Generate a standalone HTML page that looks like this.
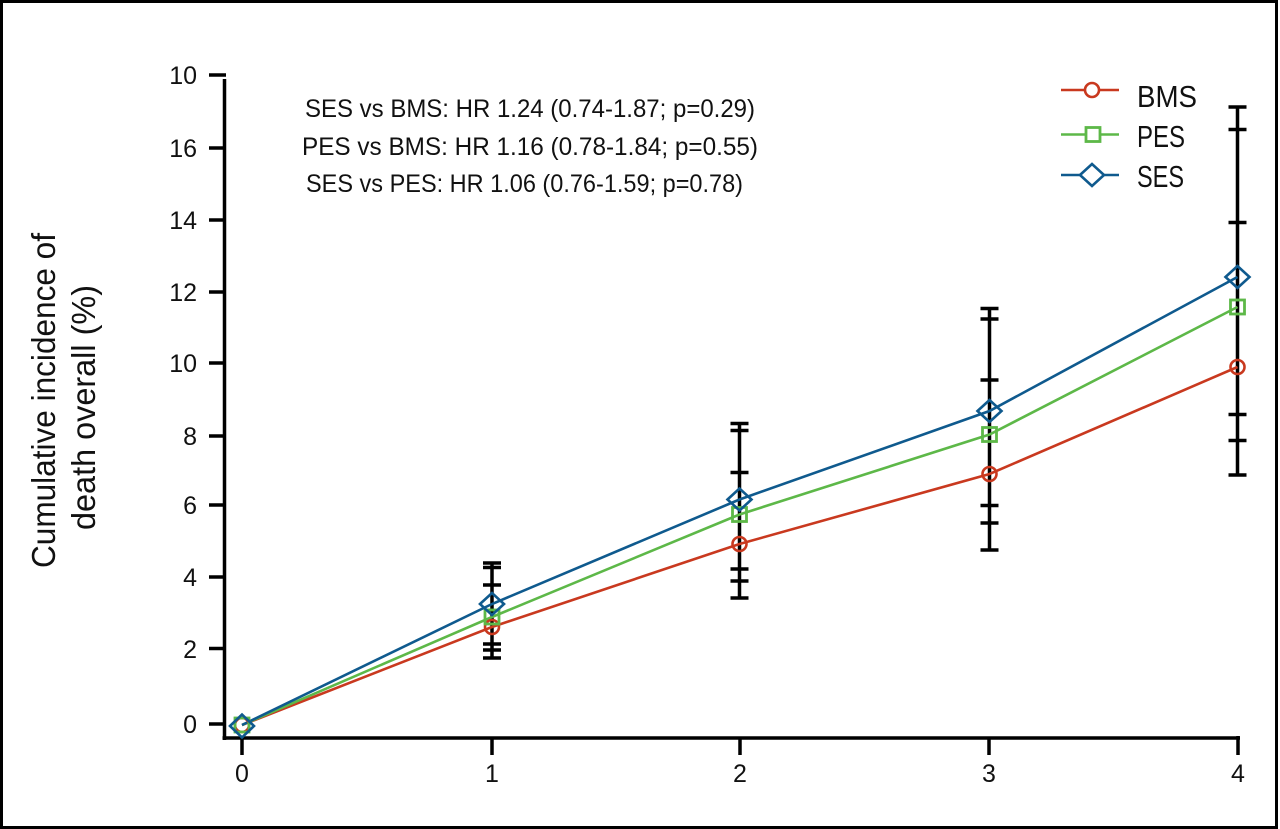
<!DOCTYPE html>
<html>
<head>
<meta charset="utf-8">
<style>
  html,body{margin:0;padding:0;background:#fff;}
  svg{display:block;}
  text{font-family:"Liberation Sans",sans-serif;fill:#111;}
</style>
</head>
<body>
<svg width="1280" height="829" viewBox="0 0 1280 829" xmlns="http://www.w3.org/2000/svg">
  <rect x="0" y="0" width="1280" height="829" fill="#fff"/>
  <rect x="1.5" y="1.5" width="1275" height="826" fill="none" stroke="#000" stroke-width="3"/>

  <!-- axes -->
  <line x1="224.5" y1="79" x2="224.5" y2="740" stroke="#000" stroke-width="3.5"/>
  <line x1="222.5" y1="738" x2="1240" y2="738" stroke="#000" stroke-width="3.5"/>

  <!-- y ticks -->
  <g stroke="#000" stroke-width="3.5">
    <line x1="209" y1="75" x2="226" y2="75"/>
    <line x1="209" y1="148" x2="224" y2="148"/>
    <line x1="209" y1="220" x2="224" y2="220"/>
    <line x1="209" y1="292" x2="224" y2="292"/>
    <line x1="209" y1="363" x2="224" y2="363"/>
    <line x1="209" y1="436" x2="224" y2="436"/>
    <line x1="209" y1="505" x2="224" y2="505"/>
    <line x1="209" y1="577" x2="224" y2="577"/>
    <line x1="209" y1="648.5" x2="224" y2="648.5"/>
    <line x1="209" y1="724" x2="224" y2="724"/>
  </g>
  <g font-size="25" text-anchor="end">
    <text x="197" y="84">10</text>
    <text x="197" y="157">16</text>
    <text x="197" y="229">14</text>
    <text x="197" y="301">12</text>
    <text x="197" y="372">10</text>
    <text x="197" y="445">8</text>
    <text x="197" y="514">6</text>
    <text x="197" y="586">4</text>
    <text x="197" y="658">2</text>
    <text x="197" y="733">0</text>
  </g>

  <!-- x ticks -->
  <g stroke="#000" stroke-width="3.5">
    <line x1="242" y1="738" x2="242" y2="755"/>
    <line x1="492" y1="738" x2="492" y2="755"/>
    <line x1="740" y1="738" x2="740" y2="755"/>
    <line x1="989" y1="738" x2="989" y2="755"/>
    <line x1="1238" y1="736" x2="1238" y2="755"/>
  </g>
  <g font-size="25" text-anchor="middle">
    <text x="242" y="782">0</text>
    <text x="492" y="782">1</text>
    <text x="740" y="782">2</text>
    <text x="989" y="782">3</text>
    <text x="1238" y="782">4</text>
  </g>

  <!-- y-axis label -->
  <text transform="translate(55,400.5) rotate(-90)" font-size="33" text-anchor="middle" textLength="335" lengthAdjust="spacingAndGlyphs">Cumulative incidence of</text>
  <text transform="translate(95,407.5) rotate(-90)" font-size="33" text-anchor="middle" textLength="245" lengthAdjust="spacingAndGlyphs">death overall (%)</text>

  <!-- annotation -->
  <g font-size="25">
    <text x="305" y="117" textLength="450" lengthAdjust="spacingAndGlyphs">SES vs BMS: HR 1.24 (0.74-1.87; p=0.29)</text>
    <text x="302" y="155" textLength="456" lengthAdjust="spacingAndGlyphs">PES vs BMS: HR 1.16 (0.78-1.84; p=0.55)</text>
    <text x="306" y="192" textLength="437" lengthAdjust="spacingAndGlyphs">SES vs PES: HR 1.06 (0.76-1.59; p=0.78)</text>
  </g>

  <!-- error bars -->
  <g stroke="#000" stroke-width="3.5" fill="none">
    <line x1="492" y1="563" x2="492" y2="658"/>
    <line x1="483" y1="563" x2="501" y2="563"/>
    <line x1="483" y1="567.5" x2="501" y2="567.5"/>
    <line x1="483" y1="585" x2="501" y2="585"/>
    <line x1="483" y1="644" x2="501" y2="644"/>
    <line x1="483" y1="650" x2="501" y2="650"/>
    <line x1="483" y1="658" x2="501" y2="658"/>

    <line x1="739.5" y1="423.5" x2="739.5" y2="598"/>
    <line x1="730.5" y1="423.5" x2="748.5" y2="423.5"/>
    <line x1="730.5" y1="430.5" x2="748.5" y2="430.5"/>
    <line x1="730.5" y1="472.5" x2="748.5" y2="472.5"/>
    <line x1="730.5" y1="569" x2="748.5" y2="569"/>
    <line x1="730.5" y1="581" x2="748.5" y2="581"/>
    <line x1="730.5" y1="598" x2="748.5" y2="598"/>

    <line x1="989.5" y1="308.5" x2="989.5" y2="550"/>
    <line x1="980.5" y1="308.5" x2="998.5" y2="308.5"/>
    <line x1="980.5" y1="319" x2="998.5" y2="319"/>
    <line x1="980.5" y1="380" x2="998.5" y2="380"/>
    <line x1="980.5" y1="505.5" x2="998.5" y2="505.5"/>
    <line x1="980.5" y1="523" x2="998.5" y2="523"/>
    <line x1="980.5" y1="550" x2="998.5" y2="550"/>

    <line x1="1237.5" y1="107" x2="1237.5" y2="475"/>
    <line x1="1228.5" y1="107" x2="1246.5" y2="107"/>
    <line x1="1228.5" y1="129.5" x2="1246.5" y2="129.5"/>
    <line x1="1228.5" y1="222.5" x2="1246.5" y2="222.5"/>
    <line x1="1228.5" y1="414.5" x2="1246.5" y2="414.5"/>
    <line x1="1228.5" y1="440.5" x2="1246.5" y2="440.5"/>
    <line x1="1228.5" y1="475" x2="1246.5" y2="475"/>
  </g>

  <!-- series lines -->
  <polyline points="242,725 492,627 739.5,544 989.5,474 1237.5,367" fill="none" stroke="#c9391f" stroke-width="2.6"/>
  <polyline points="242,725 492,617 739.5,514.5 989.5,434.5 1237.5,307" fill="none" stroke="#5db848" stroke-width="2.6"/>
  <polyline points="242,725 492,604 739.5,499.5 989.5,411 1237.5,277" fill="none" stroke="#0f5a8e" stroke-width="2.6"/>

  <!-- markers BMS -->
  <g fill="none" stroke="#c9391f" stroke-width="2.6">
    <circle cx="242" cy="725" r="7"/>
    <circle cx="492" cy="627" r="7"/>
    <circle cx="739.5" cy="544" r="7"/>
    <circle cx="989.5" cy="474" r="7"/>
    <circle cx="1237.5" cy="367" r="7"/>
  </g>
  <!-- markers PES -->
  <g fill="none" stroke="#5db848" stroke-width="2.8">
    <rect x="235" y="718" width="14" height="14"/>
    <rect x="485" y="610" width="14" height="14"/>
    <rect x="732.5" y="507.5" width="14" height="14"/>
    <rect x="982.5" y="427.5" width="14" height="14"/>
    <rect x="1230.5" y="300" width="14" height="14"/>
  </g>
  <!-- markers SES -->
  <g fill="none" stroke="#0f5a8e" stroke-width="2.6">
    <polygon points="230,726 242,714.5 254,726 242,737.5"/>
    <polygon points="480,604 492,593 504,604 492,615"/>
    <polygon points="727.5,499.5 739.5,488.5 751.5,499.5 739.5,510.5"/>
    <polygon points="977.5,411 989.5,400 1001.5,411 989.5,422"/>
    <polygon points="1225.5,277 1237.5,266 1249.5,277 1237.5,288"/>
  </g>

  <!-- legend -->
  <line x1="1061" y1="90" x2="1119" y2="90" stroke="#c9391f" stroke-width="2.6"/>
  <circle cx="1092" cy="90" r="7" fill="#fff" stroke="#c9391f" stroke-width="2.6"/>
  <line x1="1061" y1="134.5" x2="1119" y2="134.5" stroke="#5db848" stroke-width="2.6"/>
  <rect x="1086" y="127.5" width="14" height="14" fill="#fff" stroke="#5db848" stroke-width="2.8"/>
  <line x1="1061" y1="175" x2="1119" y2="175" stroke="#0f5a8e" stroke-width="2.6"/>
  <polygon points="1080,175 1092,164 1104,175 1092,186" fill="#fff" stroke="#0f5a8e" stroke-width="2.6"/>
  <g font-size="31">
    <text x="1137" y="107" textLength="60" lengthAdjust="spacingAndGlyphs">BMS</text>
    <text x="1137" y="147" textLength="48" lengthAdjust="spacingAndGlyphs">PES</text>
    <text x="1137" y="187" textLength="47" lengthAdjust="spacingAndGlyphs">SES</text>
  </g>
</svg>
</body>
</html>
